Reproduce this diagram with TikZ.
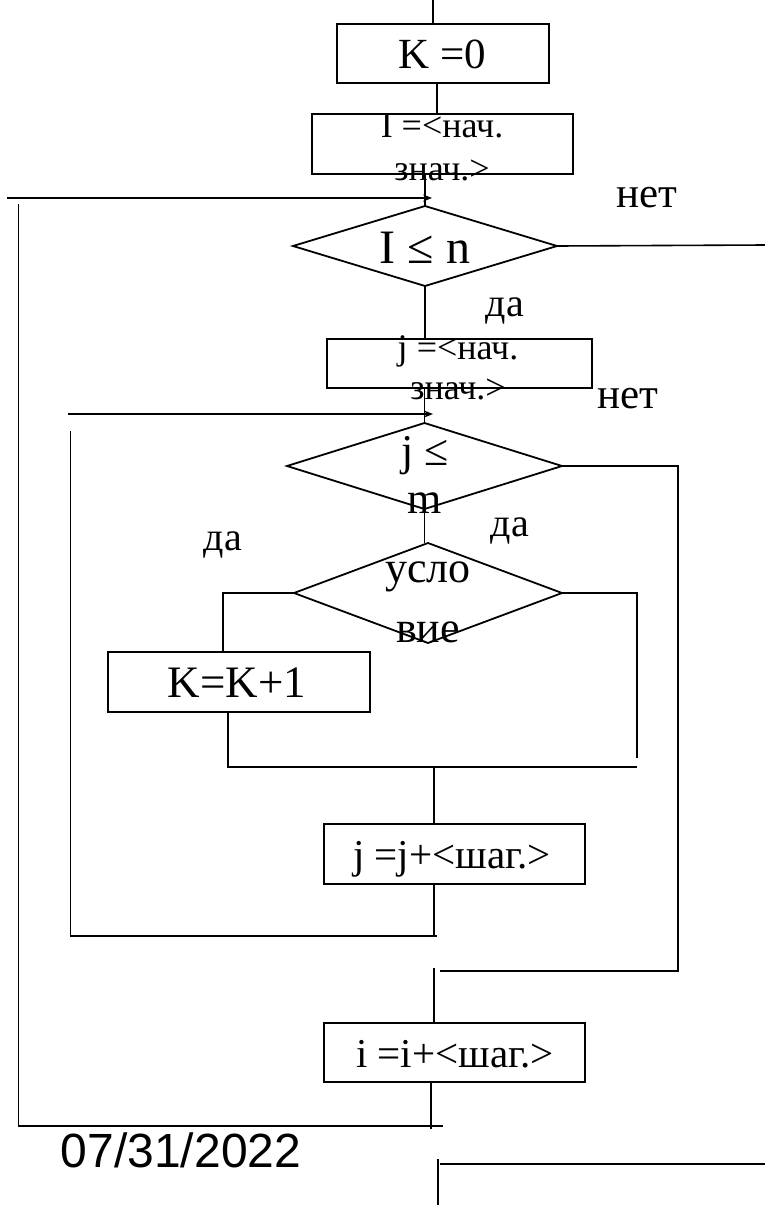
\documentclass[tikz,border=0pt]{standalone}
\usepackage{fontspec}
\setmainfont{Liberation Serif}
\newfontfamily\datafont{Liberation Sans}
\usetikzlibrary{shapes.geometric,arrows.meta}
\tikzset{
  blocco/.style={draw,line width=1.8pt,inner sep=0pt,outer sep=0pt},
  rombo/.style={draw,diamond,line width=1.8pt,inner sep=0pt,outer sep=0pt},
  linea/.style={line width=1.6pt},
  freccia/.style={line width=1.6pt,-{Stealth[length=9pt,width=7pt]}},
  testo/.style={font=\fontsize{#1}{#1}\selectfont},
}
\begin{document}
\begin{tikzpicture}[x=1pt,y=-1pt]
        \useasboundingbox (0,0) rectangle (765,1205);
        %blocchi
        \node[blocco,minimum width=212pt,minimum height=59pt] (k0) at (443,53.5) {};
        \node[blocco,minimum width=261pt,minimum height=60pt] (ii) at (442.5,144) {};
        \node[blocco,minimum width=265pt,minimum height=49pt] (ji) at (459.5,363.5) {};
        \node[blocco,minimum width=262pt,minimum height=60pt] (ki) at (239,682) {};
        \node[blocco,minimum width=261pt,minimum height=60pt] (js) at (454.5,854) {};
        \node[blocco,minimum width=261pt,minimum height=59pt] (is) at (454.5,1052.5) {};
        %rombi
        \node[rombo,minimum width=264pt,minimum height=80pt] (d1) at (425,246) {};
        \node[rombo,minimum width=275pt,minimum height=86pt] (d2) at (424.5,466) {};
        \node[rombo,minimum width=268pt,minimum height=100pt] (d3) at (428,593) {};
        %testi
        \node[testo=43,anchor=base] (tk0) at (442,68) {K =0};
        \node[font=\fontsize{36}{43}\selectfont,align=center] (tii) at (442,147) {I =<нач.\\знач.>};
        \node[testo=48,anchor=base] (td1) at (425,263) {I ≤ n};
        \node[font=\fontsize{36}{40}\selectfont,align=center] (tji) at (458,368) {j =<нач.\\знач.>};
        \node[font=\fontsize{44}{48}\selectfont,align=center] (td2) at (425,475) {j ≤\\m};
        \node[font=\fontsize{44}{60}\selectfont,align=center] (td3) at (428,602) {усло\\вие};
        \node[testo=45,anchor=base] (tki) at (237,697) {K=K+1};
        \node[testo=41,anchor=base] (tjs) at (452,868) {j =j+<шаг.>};
        \node[testo=41,anchor=base] (tis) at (455,1067) {i =i+<шаг.>};
        \node[testo=43,anchor=base] (no1) at (647,207) {нет};
        \node[testo=40,anchor=base] (si1) at (505,316) {да};
        \node[testo=43,anchor=base] (no2) at (628,408) {нет};
        \node[testo=40,anchor=base] (si2) at (510,536) {да};
        \node[testo=40,anchor=base] (si3) at (223,550) {да};
        \node[font=\datafont\fontsize{48}{48}\selectfont,anchor=base] (data) at (181,1167) {07/31/2022};
        %ingresso
        \coordinate (cima) at (433,0);
        \draw[linea] (cima) -- (cima |- k0.north);
        \draw[linea] ([xshift=-6pt]k0.south) -- ([xshift=-6pt]k0.south |- ii.north);
        \draw[linea] (ii.south -| d1.north) -- (d1.north);
        %ciclo i
        \coordinate (ri) at (7,198);
        \coordinate (ri2) at (432,198);
        \draw[freccia] (ri) -- (ri2);
        \coordinate (si) at (18.5,204);
        \coordinate (fi) at (443,1126);
        \draw[linea] (si) |- (fi);
        \draw[linea] ([xshift=-23.5pt]is.south) -- ++(0,47);
        \coordinate (usc1) at (765,245);
        \draw[linea] (d1.east) -- (usc1);
        \draw[linea] (d1.south) -- (d1.south |- ji.north);
        \draw[linea] (ji.south -| d2.north) -- (d2.north);
        %ciclo j
        \coordinate (rj) at (68,414);
        \coordinate (rj2) at (433,414);
        \draw[freccia] (rj) -- (rj2);
        \coordinate (sj) at (70.5,431);
        \coordinate (fj) at (437,936);
        \draw[linea] (sj) |- (fj);
        \draw[linea] ([xshift=-20.5pt]js.south) -- ++(0,53);
        \coordinate (usc2) at (678,971);
        \coordinate (ri3) at (440,971);
        \draw[linea] (d2.east) -| (usc2) -- (ri3);
        \draw[linea] (d2.south) -- (d2.south |- d3.north);
        %condizione
        \draw[linea] (d3.west) -| ([xshift=-16pt]ki.north);
        \coordinate (c3) at (637,758);
        \draw[linea] (d3.east) -| (c3);
        \coordinate (c4) at (637,767);
        \draw[linea] ([xshift=-11pt]ki.south) |- (c4);
        \draw[linea] ([xshift=-20.5pt]js.north) -- ++(0,-56);
        \draw[linea] ([xshift=-20.5pt]is.north) -- ++(0,-55);
        %uscita
        \coordinate (fondo) at (438,1205);
        \draw[linea] (fondo) -- ++(0,-46);
        \coordinate (usc3) at (765,1164);
        \draw[linea] (usc3) -- ++(-325,0);
\end{tikzpicture}
\end{document}
